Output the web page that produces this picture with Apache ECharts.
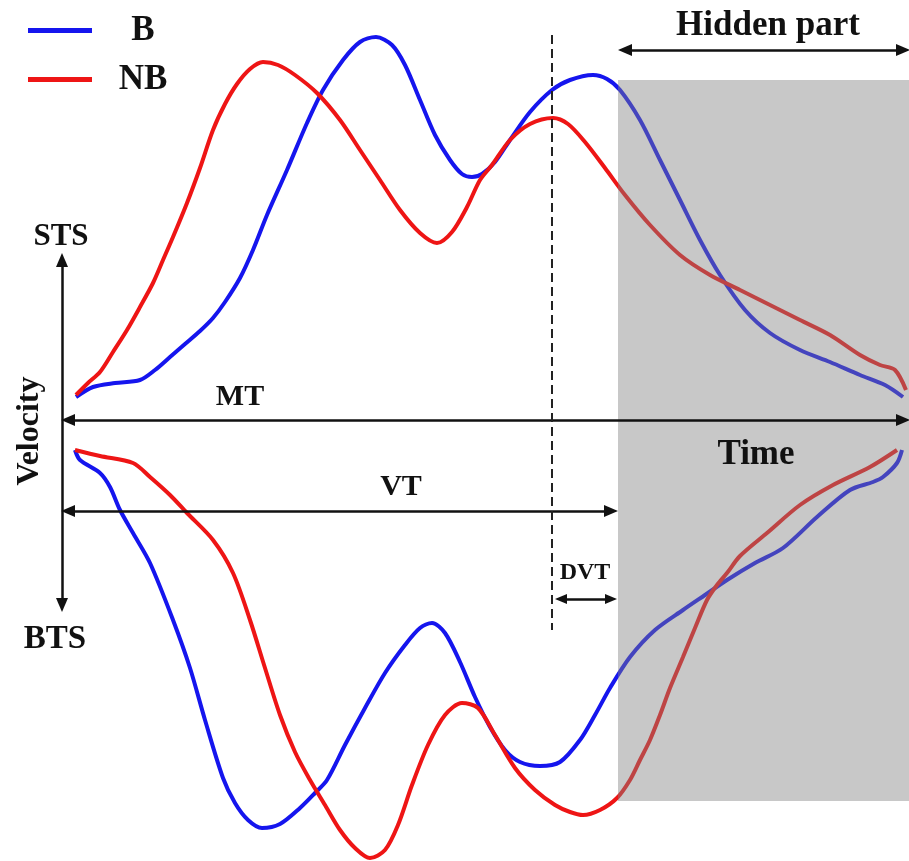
<!DOCTYPE html>
<html>
<head>
<meta charset="utf-8">
<script src="https://cdn.jsdelivr.net/npm/echarts@6/dist/echarts.min.js"></script>
<style>html,body{margin:0;padding:0;background:#fff;}#c{width:909px;height:861px;}</style>
</head>
<body>
<div id="c"></div>
<script>
// Time (x) and velocity (v, positive = STS side)
const upperB = [[76,23],[93,33],[115,37],[140,40],[155,50],[170,63],[185,76],[200,89],[213,102],[225,118],[240,142],[253,170],[267,205],[287,250],[307,297],[323,330],[343,360],[360,378],[376,383],[392,375],[405,355],[420,320],[435,285],[450,260],[462,246],[472,243],[482,246],[495,258],[510,280],[530,308],[552,330],[570,340],[593,345],[607,341],[620,330],[640,300],[660,260],[680,220],[700,180],[720,145],[745,110],[770,87],[800,70],[830,58],[860,45],[885,35],[903,23]];
const upperNB = [[76,25],[88,37],[100,48],[113,68],[127,90],[140,113],[153,137],[163,160],[173,183],[187,217],[200,252],[213,290],[225,316],[237,336],[250,351],[263,358],[278,355],[295,345],[317,327],[340,300],[360,270],[380,240],[400,210],[420,187],[437,177],[452,188],[467,213],[480,240],[492,255],[510,280],[530,296],[553,302],[568,296],[585,278],[605,252],[625,225],[650,195],[680,165],[710,145],[740,130],[770,115],[800,100],[830,85],[860,65],[880,55],[895,50],[906,30]];
const lowerB = [[75,-30],[80,-40],[100,-53],[110,-67],[120,-90],[133,-113],[150,-143],[173,-200],[190,-248],[205,-300],[223,-358],[235,-383],[248,-400],[262,-408],[280,-404],[300,-388],[315,-373],[327,-360],[345,-325],[365,-288],[385,-253],[405,-225],[420,-208],[432,-203],[445,-213],[460,-242],[475,-277],[490,-307],[505,-330],[520,-342],[540,-346],[560,-342],[580,-320],[595,-295],[610,-268],[630,-237],[655,-210],[683,-190],[705,-175],[727,-160],[755,-143],[783,-128],[817,-97],[850,-70],[873,-62],[883,-57],[897,-43],[902,-30]];
const lowerNB = [[75,-30],[100,-36],[133,-43],[150,-57],[170,-75],[187,-93],[213,-120],[233,-153],[250,-200],[265,-248],[280,-295],[295,-332],[310,-360],[325,-385],[340,-410],[355,-428],[370,-438],[385,-430],[398,-405],[412,-365],[428,-325],[445,-295],[462,-283],[478,-288],[495,-315],[515,-348],[535,-370],[555,-385],[570,-392],[583,-395],[600,-390],[617,-378],[630,-360],[640,-340],[650,-320],[660,-295],[670,-268],[683,-237],[695,-208],[707,-180],[717,-165],[727,-153],[740,-136],[767,-113],[800,-85],[833,-65],[870,-47],[897,-30]];
const seriesNames = ['B', 'NB'];
const labelTexts = ['Hidden part', 'Time', 'MT', 'VT', 'DVT', 'STS', 'BTS', 'Velocity'];

const BLUE = '#1515ee', RED = '#ee1515', INK = '#111111';
const FONT = '"Liberation Serif","Times New Roman",serif';

function curve(name, data, color) {
  return {
    type: 'line', name: name, data: data, smooth: 0.3, showSymbol: false,
    z: 2, silent: true,
    lineStyle: { color: color, width: 4 },
    itemStyle: { color: color }
  };
}
function txt(text, x, v, size, rotate) {
  return {
    value: [x, v], name: text,
    label: { show: true, position: 'inside', formatter: text, fontSize: size,
      fontFamily: FONT, fontWeight: 'bold', color: INK, rotate: rotate || 0 }
  };
}
function arrow(x1, v1, x2, v2, extra, extraEnd) {
  return [Object.assign({ coord: [x1, v1] }, extra || {}), Object.assign({ coord: [x2, v2] }, extraEnd || {})];
}

const chart = echarts.init(document.getElementById('c'), null, { renderer: 'canvas' });
chart.setOption({
  animation: false,
  backgroundColor: '#ffffff',
  grid: { left: 0, right: 0, top: 0, bottom: 0 },
  xAxis: { type: 'value', min: 0, max: 909, show: false },
  yAxis: { type: 'value', min: -441, max: 420, show: false },
  legend: {
    data: seriesNames, orient: 'vertical', left: 23, top: 8,
    icon: 'rect', itemWidth: 64, itemHeight: 5, itemGap: 14,
    selectedMode: false,
    formatter: '{a|{name}}',
    textStyle: { fontFamily: FONT, fontWeight: 'bold', fontSize: 35, color: INK, lineHeight: 34,
      rich: { a: { width: 92, align: 'center', fontFamily: FONT, fontWeight: 'bold', fontSize: 35, color: INK, lineHeight: 34 } } }
  },
  series: [
    curve(seriesNames[0], upperB, BLUE),
    curve(seriesNames[1], upperNB, RED),
    curve(seriesNames[0], lowerB, BLUE),
    curve(seriesNames[1], lowerNB, RED),
    {
      type: 'scatter', name: 'annotations', silent: true, z: 10,
      symbolSize: 0,
      itemStyle: { opacity: 1, color: INK },
      data: [
        txt(labelTexts[0], 768, 394, 35),
        txt(labelTexts[1], 756, -35, 35),
        txt(labelTexts[2], 240, 23, 30),
        txt(labelTexts[3], 401, -67, 30),
        txt(labelTexts[4], 585, -153, 24),
        txt(labelTexts[5], 61, 183, 31),
        txt(labelTexts[6], 55, -219, 33),
        txt(labelTexts[7], 30, -11, 32, 90)
      ],
      markArea: {
        silent: true, z: 5,
        itemStyle: { color: 'rgba(130,130,130,0.44)' },
        data: [[{ coord: [618, 340] }, { coord: [909, -381] }]]
      },
      markLine: {
        silent: true, z: 20, animation: false,
        symbol: ['triangle', 'triangle'], symbolSize: [12, 14],
        label: { show: false },
        lineStyle: { color: INK, width: 2.5, type: 'solid' },
        data: [
          arrow(68, 0, 903, 0),
          arrow(68, -91, 611, -91),
          arrow(62, 160, 62, -185),
          arrow(625, 370, 903, 370),
          arrow(561, -179, 611, -179, { symbolSize: [10, 12] }, { symbolSize: [10, 12] }),
          arrow(552, 385, 552, -210,
            { symbol: 'none', lineStyle: { type: [9, 5], width: 2, color: '#222' } },
            { symbol: 'none' })
        ]
      }
    }
  ]
});
</script>
</body>
</html>
